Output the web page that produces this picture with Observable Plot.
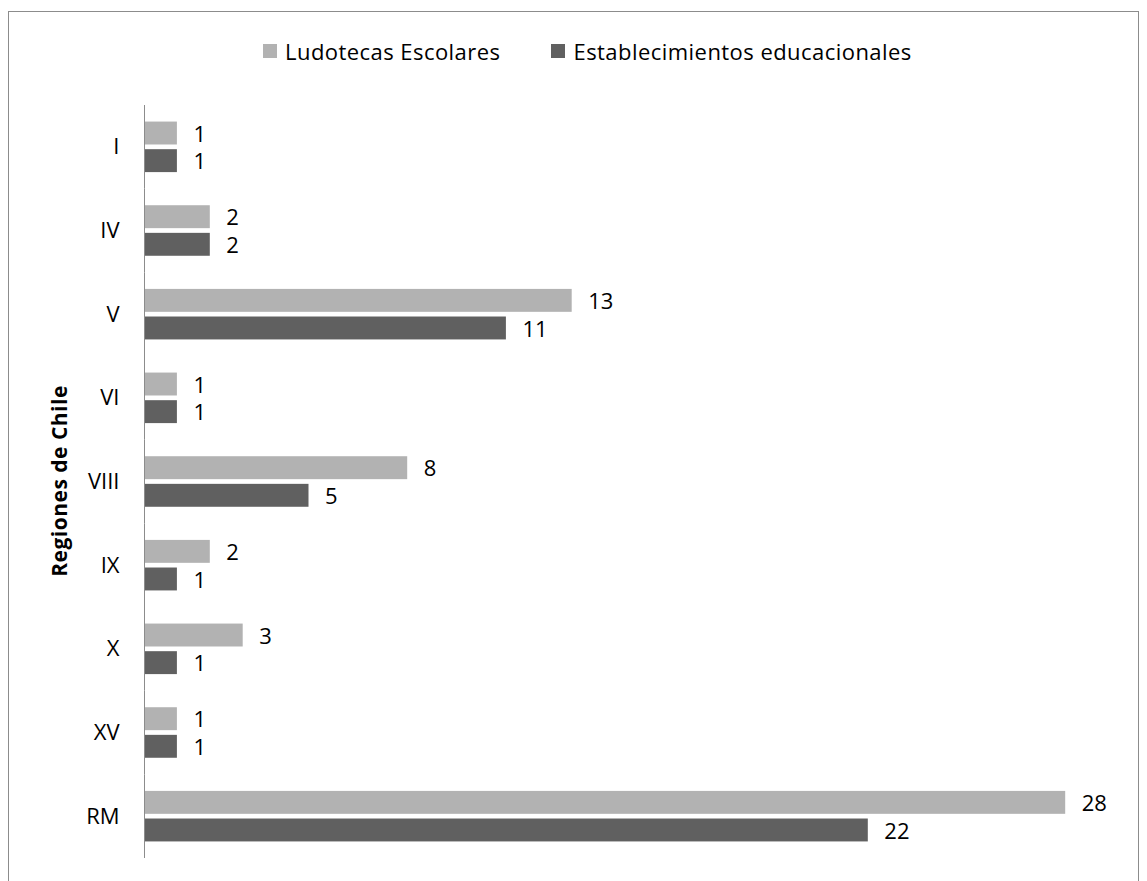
<!DOCTYPE html>
<html>
<head>
<meta charset="utf-8">
<script src="https://cdn.jsdelivr.net/npm/d3@7"></script>
<script src="https://cdn.jsdelivr.net/npm/@observablehq/plot@0.6"></script>
<style>
  html, body { margin: 0; padding: 0; background: #fff; }
  #wrap { position: relative; width: 1147px; height: 881px; overflow: hidden; font-family: "Open Sans", Lato, sans-serif; }
  #frame { position: absolute; left: 8px; top: 11px; width: 1131px; height: 900px; border: 1px solid #8c8c8c; box-sizing: border-box; pointer-events: none; }
  #legend { position: absolute; top: 36px; left: 263px; display: flex; gap: 51px; font-size: 22px; letter-spacing: 0.45px; line-height: 30px; color: #000; white-space: nowrap; }
  .item { display: flex; align-items: center; gap: 8px; }
  .sw { width: 14px; height: 14px; display: inline-block; }
  #ylabel { position: absolute; left: 59px; top: 481px; transform: translate(-50%, -50%) rotate(-90deg); font-weight: bold; font-size: 21px; letter-spacing: 0.5px; white-space: nowrap; }
  #chart { position: absolute; left: 0; top: 0; }
</style>
</head>
<body>
<div id="wrap">
  <div id="chart"></div>
  <div id="frame"></div>
  <div id="legend"></div>
  <div id="ylabel"></div>
</div>
<script>
const regions = ["I", "IV", "V", "VI", "VIII", "IX", "X", "XV", "RM"];
const ludotecas = [1, 2, 13, 1, 8, 2, 3, 1, 28];
const establecimientos = [1, 2, 11, 1, 5, 1, 1, 1, 22];
const series = ["Ludotecas Escolares", "Establecimientos educacionales"];
const colors = ["#b2b2b2", "#606060"];
const axisTitle = "Regiones de Chile";

const rows = [];
regions.forEach((r, i) => {
  rows.push({region: r, series: series[0], value: ludotecas[i]});
  rows.push({region: r, series: series[1], value: establecimientos[i]});
});

const chart = Plot.plot({
  width: 1147,
  height: 881,
  marginLeft: 144,
  marginRight: 16,
  marginTop: 105,
  marginBottom: 23,
  style: {fontFamily: "'Open Sans', Lato, sans-serif", fontSize: "22px", color: "#000", background: "transparent"},
  x: {domain: [0, 30], axis: null},
  fy: {domain: regions, padding: 0, round: false, axis: "left", tickSize: 0, tickPadding: 25, label: null},
  y: {domain: series, axis: null, round: false, paddingInner: 0.17, paddingOuter: 0.6},
  color: {domain: series, range: colors},
  marks: [
    Plot.barX(rows, {x: "value", y: "series", fy: "region", fill: "series", insetTop: 0, insetBottom: 0}),
    Plot.ruleX([0], {stroke: "#8c8c8c", strokeWidth: 1}),
    Plot.text(rows, {x: "value", y: "series", fy: "region", text: d => String(d.value), textAnchor: "start", dx: 16, dy: 1, fontSize: 22, fill: "#000"})
  ]
});
document.getElementById("chart").appendChild(chart);

const legend = document.getElementById("legend");
series.forEach((s, i) => {
  const item = document.createElement("div");
  item.className = "item";
  const sw = document.createElement("span");
  sw.className = "sw";
  sw.style.background = colors[i];
  const t = document.createElement("span");
  t.textContent = s;
  item.appendChild(sw);
  item.appendChild(t);
  legend.appendChild(item);
});
document.getElementById("ylabel").textContent = axisTitle;
</script>
</body>
</html>
